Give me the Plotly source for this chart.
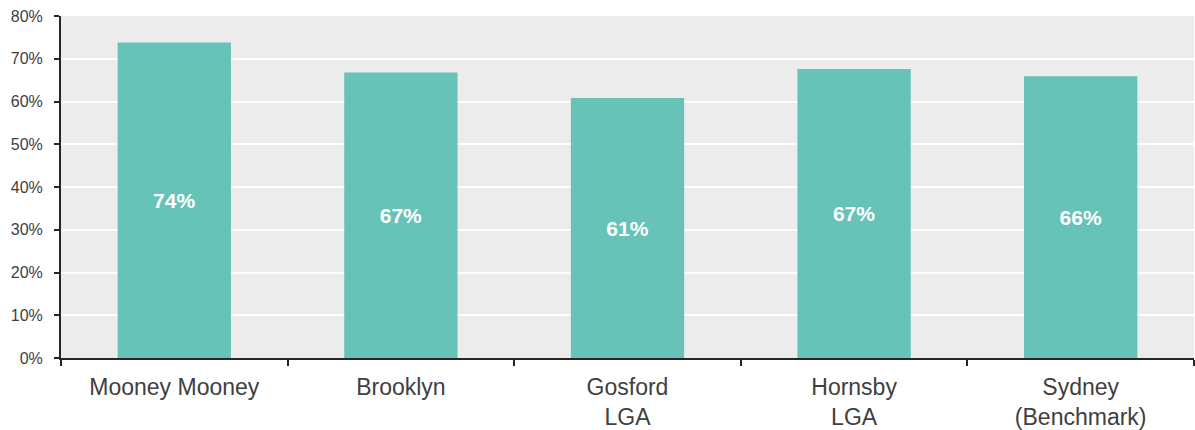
import plotly.graph_objects as go

categories = ["Mooney Mooney", "Brooklyn", "Gosford<br>LGA", "Hornsby<br>LGA", "Sydney<br>(Benchmark)"]
values = [73.8, 66.8, 60.8, 67.6, 65.9]
labels = ["74%", "67%", "61%", "67%", "66%"]
y_ticks = [0, 10, 20, 30, 40, 50, 60, 70, 80]
y_tick_text = ["0%", "10%", "20%", "30%", "40%", "50%", "60%", "70%", "80%"]

fig = go.Figure(go.Bar(
    x=categories, y=values, text=labels,
    textposition="inside", insidetextanchor="middle", textangle=0,
    constraintext="none",
    textfont=dict(family="Liberation Sans, Arial", size=21, color="white", weight="bold"),
    marker=dict(color="#67c2b7", line=dict(width=0)),
    width=0.5,
))

fig.update_layout(
    width=1195, height=430,
    margin=dict(l=61, r=1, t=16, b=72),
    paper_bgcolor="white", plot_bgcolor="#ececec",
    font=dict(family="Liberation Sans, Arial", color="#404040"),
    showlegend=False,
    xaxis=dict(
        showline=True, linecolor="#262626", linewidth=2,
        ticks="outside", tickson="boundaries", ticklen=6, tickwidth=2, tickcolor="#262626",
        tickfont=dict(size=23, color="#404040"), showgrid=False,
        ticklabelstandoff=7,
    ),
    yaxis=dict(
        range=[0, 80], tickvals=y_ticks, ticktext=y_tick_text,
        showline=True, linecolor="#262626", linewidth=2,
        ticks="outside", ticklen=5, tickwidth=2, tickcolor="#262626",
        tickfont=dict(size=16, color="#404040"),
        showgrid=True, gridcolor="white", gridwidth=2, zeroline=False,
        ticklabelstandoff=8,
    ),
)

fig.write_html("out.html")
